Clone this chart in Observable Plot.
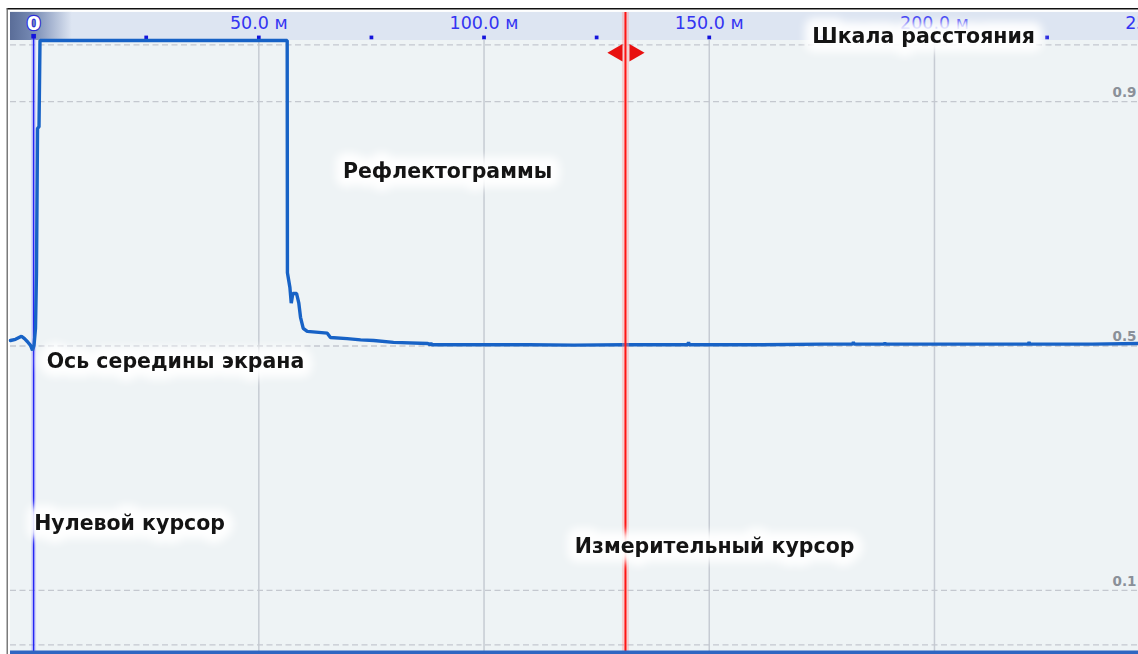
<!DOCTYPE html>
<html>
<head>
<meta charset="utf-8">
<script src="https://cdn.jsdelivr.net/npm/d3@7"></script>
<script src="https://cdn.jsdelivr.net/npm/@observablehq/plot@0.6"></script>
<style>
  html, body { margin: 0; padding: 0; background: #ffffff; }
  #chart svg { display: block; }
</style>
</head>
<body>
<div id="chart"></div>
<script>
// ---- Data (distance in metres, normalised reflectogram level) ----
const traceDist = [
  -5.13, -4.02, -2.69, -2.02, -1.35, -0.69, -0.24, 0.09, 0.42, 0.64, 0.87, 1.2, 1.42,
  20, 40, 56.3,
  56.35, 56.9, 57.2, 57.55, 58.37, 58.88, 59.26, 59.86, 60.75, 65.2, 65.9, 69.6, 72.6,
  75.5, 79.9, 87.5, 88.0, 88.2, 88.4, 94.8, 110, 120, 131, 140, 145.2, 145.4, 145.6, 160, 175,
  181.8, 182.0, 182.2, 188.8, 189.0, 189.2, 200, 210, 220.8, 221.0, 221.2, 235, 245.3
];
const traceLevel = [
  0.509, 0.511, 0.516, 0.512, 0.507, 0.501, 0.493, 0.501, 0.529, 0.619, 0.856, 0.859, 1.0,
  1.0, 1.0, 1.0,
  0.620, 0.596, 0.570, 0.586, 0.586, 0.570, 0.547, 0.529, 0.524, 0.521, 0.514, 0.512, 0.510,
  0.509, 0.506, 0.504, 0.502, 0.505, 0.502, 0.502, 0.502, 0.5015, 0.502, 0.502, 0.502, 0.506, 0.502, 0.502, 0.503,
  0.503, 0.506, 0.503, 0.503, 0.505, 0.503, 0.503, 0.503, 0.503, 0.506, 0.503, 0.503, 0.504
];

const distRange = [-5.13, 245.3];          // visible distance window, m
const gridDistances = [50, 100, 150, 200];  // solid vertical grid
const tickDistances = [50, 100, 150, 200, 250];
const tickLabels = ["50.0 м", "100.0 м", "150.0 м", "200.0 м", "250.0 м"];
const minorDotDistances = [25, 50, 75, 100, 125, 150, 175, 200, 225];
const levelGrid = [0.011, 0.1, 0.5, 0.9, 0.993];
const levelLabelValues = [0.9, 0.5, 0.1];
const levelLabels = ["0.9", "0.5", "0.1"];
const zeroCursor = 0;
const measureCursor = 131.4;

const annotationTexts = ["Шкала расстояния", "Рефлектограммы", "Ось середины экрана", "Нулевой курсор", "Измерительный курсор"];
const annotationDist = [197.6, 91.9, 31.5, 21.3, 151.2];
const annotationLevel = [1.007, 0.786, 0.474, 0.209, 0.1725];

// ---- Tables built from the arrays ----
const trace = traceDist.map((d, i) => ({d, v: traceLevel[i]}));
const ticks = tickDistances.map((d, i) => ({d, label: tickLabels[i]}));
const levelLbl = levelLabelValues.map((v, i) => ({v, label: levelLabels[i]}));
const annotations = annotationTexts.map((t, i) => ({t, d: annotationDist[i], v: annotationLevel[i]}));

const bandTop = 1.046, scaleY = 1.028, dotY = 1.005, borderY = 1.052;

const defs = () => {
  const g = d3.create("svg:defs");
  const lg = g.append("linearGradient").attr("id", "zeroGrad").attr("x1", "0").attr("x2", "1").attr("y1", "0").attr("y2", "0");
  lg.append("stop").attr("offset", "0%").attr("stop-color", "#5a6d98");
  lg.append("stop").attr("offset", "35%").attr("stop-color", "#7488b2");
  lg.append("stop").attr("offset", "100%").attr("stop-color", "#dde5f2");
  const f = g.append("filter").attr("id", "halo").attr("x", "-20%").attr("y", "-80%").attr("width", "140%").attr("height", "260%");
  f.append("feGaussianBlur").attr("stdDeviation", "4");
  return g.node();
};

const font = "DejaVu Sans, Verdana, sans-serif";

const chart = Plot.plot({
  width: 1138,
  height: 654,
  marginLeft: 10,
  marginRight: 0,
  marginTop: 40,
  marginBottom: 3,
  style: {background: "#ffffff", overflow: "visible", fontFamily: font},
  x: {domain: distRange, axis: null},
  y: {domain: [0, 1], axis: null},
  marks: [
    defs,
    // plot background
    Plot.rect([0], {x1: distRange[0], x2: distRange[1], y1: 0, y2: 1, fill: "#eef3f5"}),
    // distance scale band
    Plot.rect([0], {x1: distRange[0], x2: distRange[1], y1: 1, y2: bandTop, fill: "#dde5f2"}),
    Plot.rect([0], {x1: distRange[0], x2: 8.6, y1: 1, y2: bandTop, fill: "url(#zeroGrad)"}),
    // frame lines
    Plot.ruleY([borderY], {x1: -5.86, x2: distRange[1], stroke: "#111", strokeWidth: 1.6}),
    Plot.ruleX([-5.86], {y1: -0.005, y2: borderY, stroke: "#666", strokeWidth: 1.3}),
    // grids
    Plot.ruleX(gridDistances, {y1: 0, y2: 1, stroke: "#c6cbd3", strokeWidth: 1.5}),
    Plot.ruleY(levelGrid, {x1: distRange[0], x2: distRange[1], stroke: "#c4c8cf", strokeWidth: 1.3, strokeDasharray: "6,3.5"}),
    Plot.text(levelLbl, {x: distRange[1], y: "v", text: "label", textAnchor: "end", dx: -2, dy: -9,
      fill: "#8a9099", fontWeight: "bold", fontSize: 13.5}),
    // scale ticks
    Plot.dot(minorDotDistances, {x: d => d, y: dotY, symbol: "square", r: 2.1, fill: "#1414dc", stroke: null}),
    Plot.text(ticks, {x: "d", y: scaleY, text: "label", fill: "#3434f2", fontSize: 17.5}),
    // zero cursor
    Plot.ruleX([zeroCursor], {y1: 0, y2: dotY, stroke: "#9a9aff", strokeOpacity: 0.35, strokeWidth: 5}),
    Plot.ruleX([zeroCursor], {y1: 0, y2: dotY, stroke: "#2424f4", strokeWidth: 1.5}),
    Plot.dot([zeroCursor], {x: d => d, y: dotY + 0.002, symbol: "square", r: 2.6, fill: "#1414dc", stroke: null}),
    Plot.text([zeroCursor], {x: d => d, y: scaleY, text: () => "0", fill: "white", stroke: "#2b2bd8", strokeWidth: 2.4,
      fontWeight: "bold", fontSize: 20}),
    // reflectogram
    Plot.line(trace, {x: "d", y: "v", stroke: "#1762c6", strokeWidth: 3.4, strokeLinejoin: "miter"}),
    // measuring cursor
    Plot.ruleX([measureCursor], {y1: 0, y2: bandTop, stroke: "#ff9090", strokeOpacity: 0.35, strokeWidth: 7}),
    Plot.ruleX([measureCursor], {y1: 0, y2: bandTop, stroke: "#ff1414", strokeWidth: 2}),
    Plot.dot([measureCursor], {x: d => d, y: 0.98, dx: -8, symbol: "triangle", rotate: -90, r: 6.5, fill: "#e81010", stroke: null}),
    Plot.dot([measureCursor], {x: d => d, y: 0.98, dx: 9, symbol: "triangle", rotate: 90, r: 6.5, fill: "#e81010", stroke: null}),
    // bottom bar
    Plot.ruleY([0], {x1: distRange[0], x2: distRange[1], stroke: "#2f66c2", strokeWidth: 4, dy: 1}),
    // annotation halos + texts
    Plot.text(annotations, {x: "d", y: "v", text: "t", fill: "white", stroke: "white", strokeWidth: 18,
      strokeLinejoin: "round", fontWeight: "bold", fontSize: 20.5, opacity: 0.95,
      render: (i, s, v, d, c, next) => { const g = next(i, s, v, d, c); g.setAttribute("filter", "url(#halo)"); return g; }}),
    Plot.text(annotations, {x: "d", y: "v", text: "t", fill: "#141414", fontWeight: "bold", fontSize: 20.5})
  ]
});
document.getElementById("chart").appendChild(chart);
</script>
</body>
</html>
